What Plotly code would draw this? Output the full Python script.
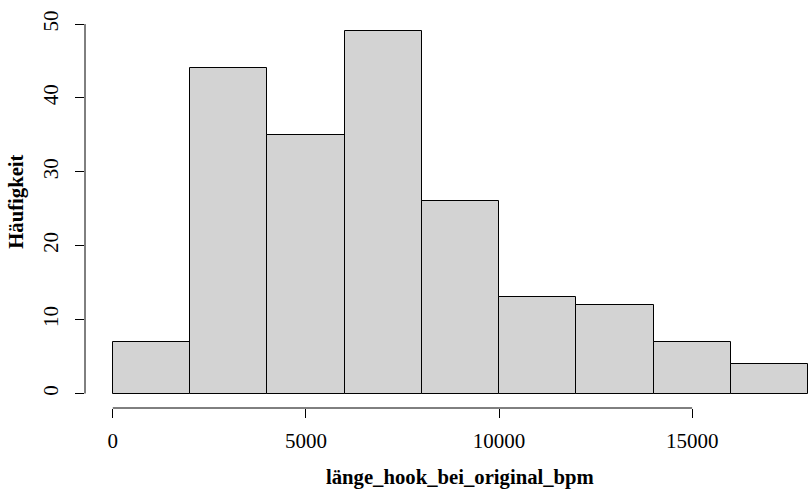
import plotly.graph_objects as go

# Histogram of hook length: bin edges and counts per bin
bin_edges = [0, 2000, 4000, 6000, 8000, 10000, 12000, 14000, 16000, 18000]
counts = [7, 44, 35, 49, 26, 13, 12, 7, 4]

x_ticks = [0, 5000, 10000, 15000]
y_ticks = [0, 10, 20, 30, 40, 50]

x_label = "länge_hook_bei_original_bpm"
y_label = "Häufigkeit"

centers = [(a + b) / 2 for a, b in zip(bin_edges[:-1], bin_edges[1:])]
widths = [b - a for a, b in zip(bin_edges[:-1], bin_edges[1:])]

FONT = "Liberation Serif"

fig = go.Figure(
    go.Bar(
        x=centers,
        y=counts,
        width=widths,
        marker=dict(color="#D3D3D3", line=dict(color="#000000", width=1)),
        hoverinfo="skip",
    )
)

fig.update_layout(
    width=810,
    height=493,
    margin=dict(l=85, r=0, t=17, b=85),
    plot_bgcolor="white",
    paper_bgcolor="white",
    showlegend=False,
    bargap=0,
    font=dict(family=FONT, size=21, color="#000000"),
)

fig.update_xaxes(
    range=[-720, 18052],
    tickvals=x_ticks,
    ticktext=[str(v) for v in x_ticks],
    ticks="outside",
    ticklen=9,
    tickwidth=1,
    tickcolor="#000000",
    showline=False,
    showgrid=False,
    zeroline=False,
    ticklabelstandoff=5,
)
fig.update_yaxes(
    range=[-1.96, 50.96],
    tickvals=y_ticks,
    ticktext=[str(v) for v in y_ticks],
    ticks="outside",
    ticklen=9,
    tickwidth=1,
    tickcolor="#000000",
    tickangle=-90,
    showline=False,
    showgrid=False,
    zeroline=False,
    ticklabelstandoff=9,
)

# Axis lines spanning first to last tick only
fig.add_shape(type="line", xref="x", yref="paper",
              x0=x_ticks[0], x1=x_ticks[-1], y0=0, y1=0,
              line=dict(color="#000000", width=1))
fig.add_shape(type="line", xref="paper", yref="y",
              x0=0, x1=0, y0=y_ticks[0], y1=y_ticks[-1],
              line=dict(color="#000000", width=1))

fig.add_annotation(
    text=f"<b>{x_label}</b>", xref="paper", yref="paper",
    x=0.517, y=-0.179, xanchor="center", yanchor="middle",
    showarrow=False, font=dict(family=FONT, size=20.7, color="#000000"),
)
fig.add_annotation(
    text=f"<b>{y_label}</b>", xref="paper", yref="paper",
    x=-0.094, y=0.527, xanchor="center", yanchor="middle",
    textangle=-90, showarrow=False,
    font=dict(family=FONT, size=20.7, color="#000000"),
)

fig.write_html("out.html")
